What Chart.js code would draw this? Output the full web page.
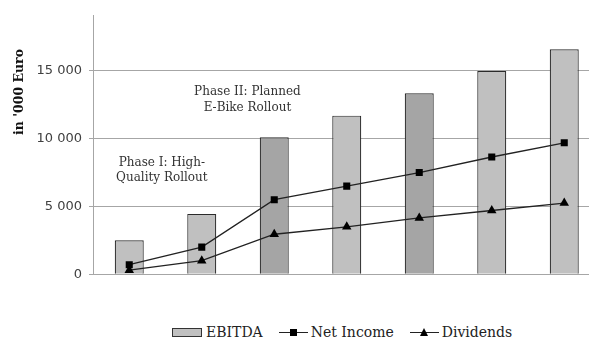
<!DOCTYPE html>
<html>
<head>
<meta charset="utf-8">
<script src="https://cdn.jsdelivr.net/npm/chart.js@4/dist/chart.umd.min.js"></script>
<style>
  html, body { margin: 0; padding: 0; background: #fff; }
  #wrap { position: relative; width: 589px; height: 340px; overflow: hidden; }
  #box { position: absolute; left: 0; top: 0; width: 606px; height: 289px; }
  #legend {
    position: absolute; left: 172px; top: 324px; display: flex; align-items: center;
    font-family: "DejaVu Serif", serif; font-size: 14px; color: #222; white-space: nowrap;
  }
  .item { display: flex; align-items: center; margin-right: 16px; }
  .swatch { width: 28px; height: 7px; background: #c0c0c0; border: 1px solid #333; margin-right: 4px; }
  .mark { position: relative; width: 29px; height: 10px; margin-right: 3px; }
  .mark::before { content: ''; position: absolute; left: 0; right: 0; top: 5px; height: 1px; background: #222; }
  .sq { position: absolute; left: 11px; top: 2px; width: 7px; height: 7px; background: #000; }
  .tri { position: absolute; left: 10px; top: 1px; width: 0; height: 0;
    border-left: 4.5px solid transparent; border-right: 4.5px solid transparent; border-bottom: 8px solid #000; }
</style>
</head>
<body>
<div id="wrap">
  <div id="box"><canvas id="chart" width="606" height="289"></canvas></div>
  <div id="legend">
    <div class="item"><div class="swatch"></div>EBITDA</div>
    <div class="item"><div class="mark"><div class="sq"></div></div>Net Income</div>
    <div class="item"><div class="mark"><div class="tri"></div></div>Dividends</div>
  </div>
</div>
<script>
const years = ['1', '2', '3', '4', '5', '6', '7'];
const ebitda = [2500, 4450, 10100, 11700, 13350, 15000, 16600];
const netIncome = [700, 2000, 5500, 6500, 7500, 8650, 9700];
const dividends = [300, 1000, 2950, 3500, 4150, 4700, 5250];
const yTicks = [0, 5000, 10000, 15000];

const LIGHT = '#c0c0c0';
const DARK = '#a5a5a5';
const barColors = ebitda.map((_, i) => (i === 2 || i === 4) ? DARK : LIGHT);

const notes = [
  { lines: ['Phase I: High-', 'Quality Rollout'], x: 0.45, y: 8250 },
  { lines: ['Phase II: Planned', 'E-Bike Rollout'], x: 1.63, y: 13450 },
];

const fmt = v => String(v).replace(/\B(?=(\d{3})+(?!\d))/g, ' ');

const textPlugin = {
  id: 'texts',
  afterDraw(chart) {
    const { ctx, scales: { x, y } } = chart;
    ctx.save();
    ctx.fillStyle = '#333';
    ctx.font = '12px "DejaVu Serif"';
    ctx.textAlign = 'center';
    ctx.textBaseline = 'middle';
    notes.forEach(n => {
      const px = x.getPixelForValue(n.x);
      const py = y.getPixelForValue(n.y);
      n.lines.forEach((l, i) => ctx.fillText(l, px, py + i * 15.5));
    });
    // y axis title
    ctx.translate(20, 92);
    ctx.rotate(-Math.PI / 2);
    ctx.fillStyle = '#111';
    ctx.font = 'bold 12.5px "DejaVu Serif"';
    ctx.fillText("in '000 Euro", 0, 0);
    ctx.restore();
  },
};

new Chart(document.getElementById('chart'), {
  data: {
    labels: years,
    datasets: [
      {
        type: 'line', label: 'Net Income', data: netIncome, order: 0,
        borderColor: '#222', borderWidth: 1.3, pointStyle: 'rect', pointRadius: 5,
        pointBackgroundColor: '#000', pointBorderColor: '#000', pointBorderWidth: 0,
      },
      {
        type: 'line', label: 'Dividends', data: dividends, order: 0,
        borderColor: '#222', borderWidth: 1.3, pointStyle: 'triangle', pointRadius: 5.5,
        pointBackgroundColor: '#000', pointBorderColor: '#000', pointBorderWidth: 0,
      },
      {
        type: 'bar', label: 'EBITDA', data: ebitda, order: 1,
        backgroundColor: barColors, borderColor: '#2b2b2b', borderWidth: 1.2,
        categoryPercentage: 1, barPercentage: 0.4,
      },
    ],
  },
  plugins: [textPlugin],
  options: {
    responsive: false,
    animation: false,
    maintainAspectRatio: false,
    layout: { padding: { top: 15, bottom: 0, left: 0, right: 0 } },
    plugins: { legend: { display: false }, tooltip: { enabled: false } },
    scales: {
      x: { display: false },
      y: {
        min: 0, max: 19130,
        afterBuildTicks: s => { s.ticks = yTicks.map(v => ({ value: v })); },
        afterFit: s => { s.width = 93; },
        ticks: {
          padding: 7, color: '#404040',
          font: { family: 'DejaVu Sans', size: 13 },
          callback: v => fmt(v),
        },
        grid: { color: '#a6a6a6', tickLength: 4, lineWidth: 1 },
        border: { color: '#a6a6a6' },
      },
    },
  },
});
</script>
</body>
</html>
